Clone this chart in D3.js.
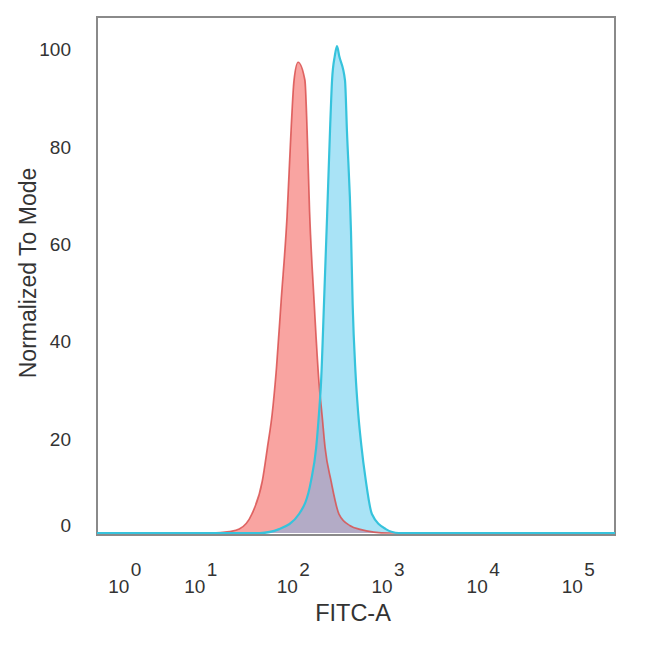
<!DOCTYPE html>
<html>
<head>
<meta charset="utf-8">
<script src="https://cdn.jsdelivr.net/npm/d3@7"></script>
<style>
  body { margin: 0; background: #fff; }
  text { font-family: "Liberation Sans", Arial, sans-serif; fill: #333; }
</style>
</head>
<body>
<svg width="650" height="652"></svg>
<script>
// FITC-A intensity vs normalized count
var redFitc = [0.28, 15, 23.5, 30, 41, 53, 60, 67.5, 75, 84, 97, 107, 115, 127, 150, 158, 168, 187, 211, 228, 245, 283, 343, 450, 557, 1149, 275000];
var redMode = [0, 0, 0.3, 0.8, 3.9, 10.7, 17.5, 24.5, 34, 47.7, 65, 82.7, 93, 96.7, 93, 83, 66, 48, 31, 24, 17.5, 10.7, 3.9, 1.5, 0.8, 0, 0];

var blueFitc = [0.28, 50, 80, 130, 174, 197, 211, 222, 239, 257, 276, 290, 310, 327, 345, 397, 416, 459, 478, 512, 545, 590, 655, 762, 1068, 1460, 275000];
var blueMode = [0, 0, 0.8, 3.9, 10.7, 17.5, 24.5, 31, 47.7, 65, 82.7, 93, 98, 100, 98, 93, 82.7, 62, 47, 33, 25, 18, 11, 3.9, 0.8, 0, 0];

var yTicks = [0, 20, 40, 60, 80, 100];
var xTickExps = [0, 1, 2, 3, 4, 5];

var svg = d3.select("svg");

var x = d3.scaleSymlog().constant(0.7).domain([0.28, 275000]).range([97, 615]);
var y = d3.scaleLinear().domain([0, 106]).range([533, 17]);

function pts(xs, ys) {
    return xs.map(function(v, i) { return [v, ys[i]]; });
}
var red = pts(redFitc, redMode),
    blue = pts(blueFitc, blueMode);

var area = d3.area()
    .x(function(d) { return x(d[0]); })
    .y0(y(0))
    .y1(function(d) { return y(d[1]); })
    .curve(d3.curveMonotoneX);
var line = d3.line()
    .x(function(d) { return x(d[0]); })
    .y(function(d) { return y(d[1]); })
    .curve(d3.curveMonotoneX);

// frame
svg.append("rect")
    .attr("x", x.range()[0])
    .attr("y", y.range()[1])
    .attr("width", x.range()[1] - x.range()[0])
    .attr("height", y.range()[0] - y.range()[1] + 2)
    .style("fill", "none")
    .style("stroke", "#8a8a8a")
    .style("stroke-width", 2);

svg.append("clipPath").attr("id", "blueClip")
    .append("path").attr("d", area(blue));

svg.append("path").attr("d", area(red)).style("fill", "#f9a4a1");
svg.append("path").attr("d", area(blue)).style("fill", "#a9e3f6");
// overlap of the two histograms
svg.append("path").attr("d", area(red))
    .attr("clip-path", "url(#blueClip)")
    .style("fill", "#b3abc6");

svg.append("path").attr("d", line(red))
    .style("fill", "none")
    .style("stroke", "#d9504f")
    .style("stroke-width", 1.7)
    .style("stroke-opacity", 0.85);
svg.append("path").attr("d", line(blue))
    .style("fill", "none")
    .style("stroke", "#36c3dc")
    .style("stroke-width", 2.2);

// y tick labels
svg.selectAll(".ytick").data(yTicks).enter().append("text")
    .attr("class", "ytick")
    .attr("x", 71)
    .attr("y", function(d) { return Math.min(y(d) + 10, y(0) - 1); })
    .attr("text-anchor", "end")
    .style("font-size", "19px")
    .text(function(d) { return d; });

// x tick labels 10^n
var xt = svg.selectAll(".xtick").data(xTickExps).enter().append("g")
    .attr("class", "xtick")
    .attr("transform", function(d) { return "translate(" + x(Math.pow(10, d)) + ",0)"; });
xt.append("text")
    .attr("x", -1)
    .attr("y", 593)
    .attr("text-anchor", "middle")
    .style("font-size", "19px")
    .text("10");
xt.append("text")
    .attr("x", 11)
    .attr("y", 576)
    .style("font-size", "19px")
    .text(function(d) { return d; });

svg.append("text")
    .attr("x", 353)
    .attr("y", 621)
    .attr("text-anchor", "middle")
    .style("font-size", "23.5px")
    .text("FITC-A");

svg.append("text")
    .attr("transform", "translate(36,273) rotate(-90)")
    .attr("text-anchor", "middle")
    .style("font-size", "23px")
    .text("Normalized To Mode");
</script>
</body>
</html>
